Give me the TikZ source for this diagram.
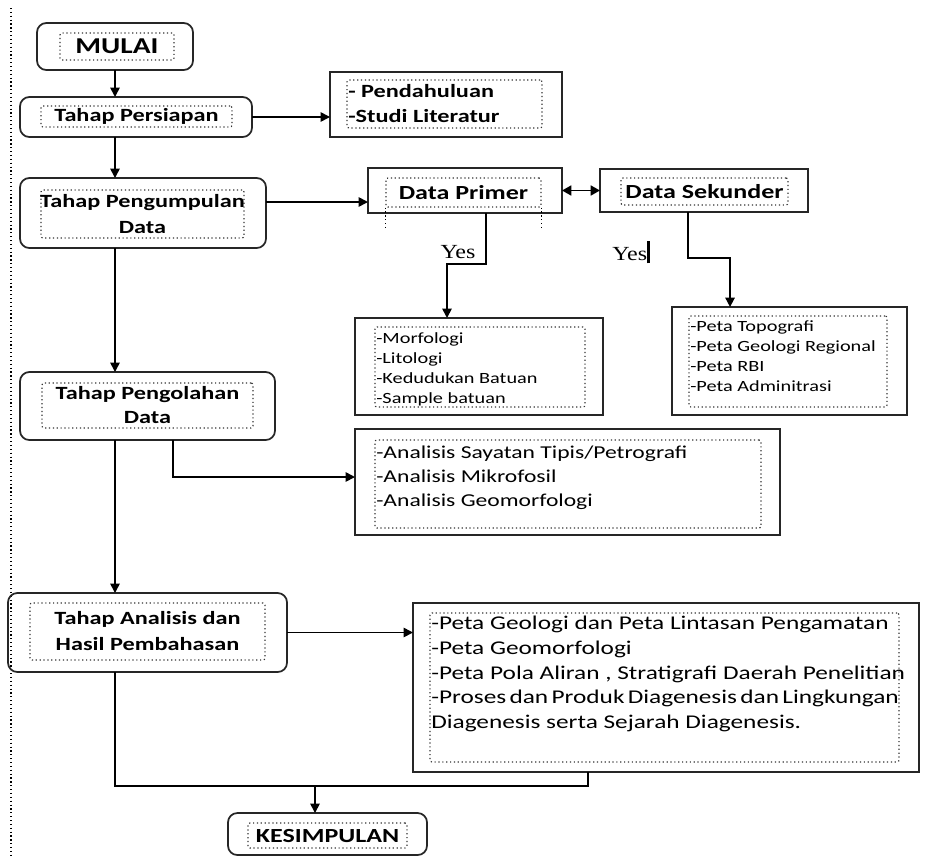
\documentclass[tikz,border=0pt]{standalone}
\usepackage{fontspec}
\setmainfont{Carlito}[FakeStretch=1.3]
\newfontfamily\yesfont{Liberation Serif}[FakeStretch=1.2]
\usetikzlibrary{arrows.meta, positioning, fit}

\begin{document}
\begin{tikzpicture}[x=0.75pt, y=-0.75pt,
    stage/.style={draw=black!85, line width=1.3pt, rounded corners=7pt, inner sep=0pt, outer sep=0pt},
    rect/.style={draw=black!85, line width=1.3pt, inner sep=0pt, outer sep=0pt},
    dotbox/.style={draw=black!80, dotted, line width=0.9pt, rounded corners=1.5pt, inner sep=0pt},
    lbl/.style={align=center, inner sep=0pt, font=\bfseries\fontsize{14}{19.5}\selectfont},
    lst/.style={align=left, anchor=north west, inner sep=0pt},
    yes/.style={inner sep=0pt, font=\yesfont\fontsize{15}{18}\selectfont},
    arr/.style={-{Triangle[length=7pt, width=7pt]}, line width=1.25pt},
    darr/.style={{Triangle[length=7pt, width=7.5pt]}-{Triangle[length=7pt, width=7.5pt]}, line width=1.25pt}]
    \useasboundingbox (0,0) rectangle (944,857);
    \draw[dotted, line width=0.9pt] (11,8) -- (11,857);

    % stages on the left
    \node[stage, fit={(37,23) (193,70)}] (mulai) {};
    \node[dotbox, fit={(60,33) (174,60)}] (mulaiIn) {};
    \node[lbl, font=\bfseries\fontsize{17}{20}\selectfont] (mulaiTxt) at (mulaiIn) {MULAI};

    \node[stage, fit={(20,97) (252,137)}] (persiapan) {};
    \node[dotbox, fit={(41,106) (232,127)}] (persiapanIn) {};
    \node[lbl] (persiapanTxt) at (persiapanIn) {Tahap Persiapan};

    \node[stage, fit={(20,178) (266,248)}] (pengumpulan) {};
    \node[dotbox, fit={(41,190) (244,238)}] (pengumpulanIn) {};
    \node[lbl] (pengumpulanTxt) at (pengumpulanIn) {Tahap Pengumpulan\\Data};

    \node[stage, fit={(20,372) (275,440)}] (pengolahan) {};
    \node[dotbox, fit={(42,383) (253,428)}] (pengolahanIn) {};
    \node[lbl, font=\bfseries\fontsize{14}{18}\selectfont] (pengolahanTxt) at (pengolahanIn) {Tahap Pengolahan\\Data};

    \node[stage, fit={(8,593) (287,672)}] (analisis) {};
    \node[dotbox, fit={(30,603) (265,660)}] (analisisIn) {};
    \node[lbl] (analisisTxt) at (analisisIn) {Tahap Analisis dan\\Hasil Pembahasan};

    \node[stage, fit={(228,813) (427,855)}] (kesimpulan) {};
    \node[dotbox, fit={(248,823) (407,848)}] (kesimpulanIn) {};
    \node[lbl, font=\bfseries\fontsize{15}{18}\selectfont] (kesimpulanTxt) at (kesimpulanIn) {KESIMPULAN};

    % boxes on the right
    \node[rect, fit={(330,72) (562,137)}] (pendahuluan) {};
    \node[dotbox, fit={(347,80) (542,128)}] (pendahuluanIn) {};
    \node[lst, font=\bfseries\fontsize{14}{18.75}\selectfont] (pendahuluanTxt) at (348,84) {- Pendahuluan\\-Studi Literatur};

    \node[rect, fit={(368,168) (562,213)}] (primer) {};
    \node[dotbox, fit={(386,178) (541,207)}] (primerIn) {};
    \node[lbl, font=\bfseries\fontsize{15}{18}\selectfont] (primerTxt) at (primerIn) {Data Primer};
    \draw[dotted, line width=0.9pt] (primerIn.south west) -- ++(0,23);
    \draw[dotted, line width=0.9pt] (primerIn.south east) -- ++(0,23);

    \node[rect, fit={(600,169) (808,212)}] (sekunder) {};
    \node[dotbox, fit={(621,178) (788,205)}] (sekunderIn) {};
    \node[lbl, font=\bfseries\fontsize{15}{18}\selectfont] (sekunderTxt) at (sekunderIn) {Data Sekunder};

    \node[rect, fit={(355,318) (603,415)}] (morf) {};
    \node[dotbox, fit={(375,327) (585,407)}] (morfIn) {};
    \node[lst, font=\fontsize{11.7}{15}\selectfont] (morfTxt) at (376,332)
        {-Morfologi\\-Litologi\\-Kedudukan Batuan\\-Sample batuan};

    \node[rect, fit={(672,307) (907,415)}] (petaTopo) {};
    \node[dotbox, fit={(689,316) (887,407)}] (petaTopoIn) {};
    \node[lst, font=\fontsize{11.7}{15}\selectfont] (petaTopoTxt) at (690,320)
        {-Peta Topografi\\-Peta Geologi Regional\\-Peta RBI\\-Peta Adminitrasi};

    \node[rect, fit={(355,429) (780,535)}] (analisisList) {};
    \node[dotbox, fit={(375,440) (761,528)}] (analisisListIn) {};
    \node[lst, font=\fontsize{13.6}{18}\selectfont] (analisisListTxt) at (376,446)
        {-Analisis Sayatan Tipis/Petrografi\\-Analisis Mikrofosil\\-Analisis Geomorfologi};

    \node[rect, fit={(413,603) (919,772)}] (petaGeo) {};
    \node[dotbox, fit={(430,613) (899,762)}] (petaGeoIn) {};
    \node[lst, font=\fontsize{14.6}{18.5}\selectfont] (petaGeoTxt) at (431,616)
        {-Peta Geologi dan Peta Lintasan Pengamatan\\-Peta Geomorfologi\\-Peta Pola Aliran , Stratigrafi Daerah Penelitian\\{\spaceskip=0.17em\relax -Proses dan Produk Diagenesis dan Lingkungan}\\Diagenesis serta Sejarah Diagenesis.};

    \node[yes] (yesPrimer) at (458,252) {Yes};
    \node[yes, anchor=west] (yesSekunder) at (612,252) {Yes\rule[-2.2pt]{1.8pt}{17pt}};

    % connectors
    \coordinate (p1) at ([yshift=8.25pt]pengumpulan.east);
    \coordinate (merge) at (315,786);
    \draw[arr] (mulai) -- (mulai |- persiapan.north);
    \draw[arr] (persiapan.east) -- (persiapan.east -| pendahuluan.west);
    \draw[arr] (persiapan.south -| mulai) -- (pengumpulan.north -| mulai);
    \draw[arr] (p1) -- (p1 -| primer.west);
    \draw[darr] (primer) -- (sekunder);
    \draw[arr] ([xshift=15.75pt]primer.south) -- ++(0,51) -| ([xshift=-24pt]morf.north);
    \draw[arr] ([xshift=-12pt]sekunder.south) -- ++(0,46) -| ([xshift=-44.6pt]petaTopo.north);
    \draw[arr] (pengumpulan.south -| mulai) -- (pengolahan.north -| mulai);
    \draw[arr] ([xshift=19.1pt]pengolahan.south) |- ([yshift=3.75pt]analisisList.west);
    \draw[arr] (pengolahan.south -| mulai) -- (analisis.north -| mulai);
    \draw[arr] (analisis.east) -- (analisis.east -| petaGeo.west);
    \draw[line width=1.25pt] (analisis.south -| mulai) |- (merge) -| ([xshift=-58.5pt]petaGeo.south);
    \draw[arr] (merge) -- (merge |- kesimpulan.north);
\end{tikzpicture}
\end{document}
